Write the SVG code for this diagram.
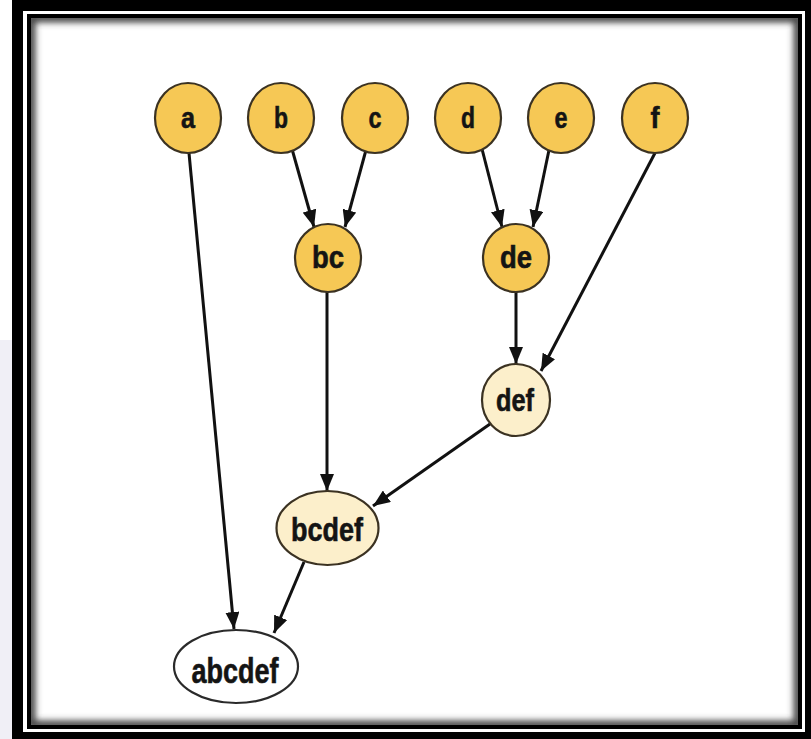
<svg xmlns="http://www.w3.org/2000/svg" width="811" height="739" viewBox="0 0 811 739">
  <style>
    .leaf { fill: #f6c855; stroke: #3b3222; stroke-width: 2.2; }
    .mid { fill: #fcefcb; stroke: #3b3222; stroke-width: 2.2; }
    .root { fill: #ffffff; stroke: #2a2a2a; stroke-width: 2.2; }
    .lbl { font-family: "Liberation Sans", Arial, sans-serif; font-weight: bold; fill: #141414; text-anchor: middle; stroke: #141414; stroke-width: 0.6; }
    .edge { stroke: #111; stroke-width: 3; fill: none; marker-end: url(#arrow); }
  </style>
  <defs>
    <marker id="arrow" markerUnits="userSpaceOnUse" viewBox="0 0 17 14" refX="17" refY="7" markerWidth="17" markerHeight="14" orient="auto">
      <path d="M0,0 L17,7 L0,14 z" fill="#111"/>
    </marker>
    <clipPath id="inner">
      <rect x="31" y="18" width="767" height="707"/>
    </clipPath>
    <filter id="soft" x="-5%" y="-5%" width="110%" height="110%">
      <feGaussianBlur stdDeviation="3"/>
    </filter>
  </defs>

  <!-- page background with faint watermark at the left -->
  <rect width="811" height="739" fill="#ffffff"/>
  <rect x="0" y="340" width="14" height="399" fill="#f0eff6"/>

  <!-- double frame -->
  <rect x="12" y="0" width="799" height="739" fill="#000"/>
  <rect x="23" y="11" width="782" height="721" fill="#fff"/>
  <rect x="27" y="14" width="775" height="715" fill="#000"/>
  <rect x="31" y="18" width="767" height="707" fill="#fff"/>
  <g clip-path="url(#inner)">
    <rect x="31" y="18" width="767" height="707" fill="none" stroke="#444" stroke-width="9" filter="url(#soft)"/>
  </g>

  <!-- connectors -->
  <g id="connectors">
    <line class="edge" x1="189" y1="153" x2="234" y2="629"/>
    <line class="edge" x1="292" y1="149" x2="314" y2="227"/>
    <line class="edge" x1="366" y1="150" x2="345" y2="227"/>
    <line class="edge" x1="482" y1="149" x2="502" y2="227"/>
    <line class="edge" x1="549" y1="150" x2="533" y2="227"/>
    <line class="edge" x1="655" y1="153" x2="541" y2="371"/>
    <line class="edge" x1="327" y1="291" x2="327" y2="491"/>
    <line class="edge" x1="516" y1="291" x2="516" y2="364"/>
    <line class="edge" x1="490" y1="424" x2="373" y2="506"/>
    <line class="edge" x1="304" y1="562" x2="274" y2="633"/>
  </g>

  <!-- leaf nodes -->
  <g id="node-a">
    <ellipse class="leaf" cx="188" cy="118" rx="33" ry="35"/>
    <text class="lbl" x="188" y="128" font-size="30" textLength="14" lengthAdjust="spacingAndGlyphs">a</text>
  </g>
  <g id="node-b">
    <ellipse class="leaf" cx="281" cy="118" rx="33" ry="35"/>
    <text class="lbl" x="281" y="128" font-size="30" textLength="14" lengthAdjust="spacingAndGlyphs">b</text>
  </g>
  <g id="node-c">
    <ellipse class="leaf" cx="375" cy="118" rx="33" ry="35"/>
    <text class="lbl" x="375" y="128" font-size="30" textLength="13" lengthAdjust="spacingAndGlyphs">c</text>
  </g>
  <g id="node-d">
    <ellipse class="leaf" cx="468" cy="118" rx="33" ry="35"/>
    <text class="lbl" x="468" y="128" font-size="30" textLength="14" lengthAdjust="spacingAndGlyphs">d</text>
  </g>
  <g id="node-e">
    <ellipse class="leaf" cx="561" cy="118" rx="33" ry="35"/>
    <text class="lbl" x="561" y="128" font-size="30" textLength="13" lengthAdjust="spacingAndGlyphs">e</text>
  </g>
  <g id="node-f">
    <ellipse class="leaf" cx="655" cy="118" rx="33" ry="35"/>
    <text class="lbl" x="655" y="128" font-size="30" textLength="9" lengthAdjust="spacingAndGlyphs">f</text>
  </g>

  <!-- merged nodes -->
  <g id="node-bc">
    <ellipse class="leaf" cx="328" cy="258" rx="33" ry="34"/>
    <text class="lbl" x="328" y="268" font-size="31" textLength="32" lengthAdjust="spacingAndGlyphs">bc</text>
  </g>
  <g id="node-de">
    <ellipse class="leaf" cx="516" cy="258" rx="33" ry="34"/>
    <text class="lbl" x="516" y="268" font-size="31" textLength="32" lengthAdjust="spacingAndGlyphs">de</text>
  </g>
  <g id="node-def">
    <ellipse class="mid" cx="516" cy="400" rx="34" ry="36"/>
    <text class="lbl" x="515" y="411" font-size="31" textLength="38" lengthAdjust="spacingAndGlyphs">def</text>
  </g>
  <g id="node-bcdef">
    <ellipse class="mid" cx="327.5" cy="528" rx="51" ry="37"/>
    <text class="lbl" x="327" y="541" font-size="34" textLength="72" lengthAdjust="spacingAndGlyphs">bcdef</text>
  </g>
  <g id="node-abcdef">
    <ellipse class="root" cx="236" cy="666.5" rx="62" ry="36.5"/>
    <text class="lbl" x="235" y="683" font-size="35" textLength="87" lengthAdjust="spacingAndGlyphs">abcdef</text>
  </g>
</svg>
